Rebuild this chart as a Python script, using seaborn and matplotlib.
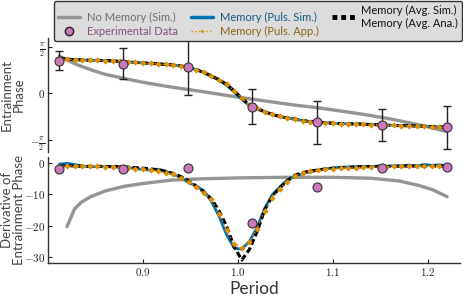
import numpy as np
import matplotlib
matplotlib.use("Agg")
import matplotlib.pyplot as plt
import seaborn as sns
from matplotlib.lines import Line2D

# -------------------------------
# Data
# -------------------------------
period = np.linspace(0.812, 1.22, 52)

# entrainment phase, memory models
phase_puls_sim = [1.19, 1.15, 1.13, 1.12, 1.11, 1.11, 1.10, 1.09, 1.07, 1.05,
                  1.04, 1.02, 1.01, 0.99, 0.97, 0.95, 0.92, 0.87, 0.80, 0.69,
                  0.57, 0.44, 0.27, 0.04, -0.21, -0.41, -0.53, -0.63, -0.71, -0.78,
                  -0.83, -0.87, -0.92, -0.95, -0.97, -0.99, -1.01, -1.02, -1.03, -1.03,
                  -1.04, -1.05, -1.06, -1.07, -1.08, -1.09, -1.09, -1.10, -1.11, -1.12,
                  -1.13, -1.14]
phase_puls_app = [1.19, 1.15, 1.13, 1.12, 1.11, 1.11, 1.10, 1.09, 1.07, 1.05,
                  1.04, 1.02, 1.01, 0.99, 0.97, 0.95, 0.92, 0.87, 0.80, 0.70,
                  0.59, 0.46, 0.30, 0.08, -0.17, -0.38, -0.51, -0.62, -0.71, -0.78,
                  -0.83, -0.87, -0.92, -0.95, -0.97, -0.99, -1.01, -1.02, -1.03, -1.03,
                  -1.04, -1.05, -1.06, -1.07, -1.08, -1.09, -1.09, -1.10, -1.11, -1.12,
                  -1.13, -1.14]
phase_avg = [1.19, 1.15, 1.13, 1.12, 1.11, 1.11, 1.10, 1.09, 1.07, 1.05,
             1.04, 1.02, 1.01, 0.99, 0.97, 0.95, 0.92, 0.87, 0.80, 0.70,
             0.59, 0.46, 0.30, 0.08, -0.17, -0.38, -0.51, -0.62, -0.71, -0.78,
             -0.83, -0.87, -0.92, -0.95, -0.97, -0.99, -1.01, -1.02, -1.03, -1.03,
             -1.04, -1.05, -1.06, -1.07, -1.08, -1.09, -1.09, -1.10, -1.11, -1.12,
             -1.13, -1.14]

# derivative of entrainment phase, memory models
deriv_puls_sim = [-0.3, 0.0, -0.4, -0.9, -1.1, -1.1, -1.1, -1.1, -1.2, -1.4,
                  -1.7, -2.0, -2.2, -1.9, -2.6, -3.6, -4.5, -6.2, -7.3, -8.8,
                  -12.2, -17.0, -22.9, -27.2, -27.5, -25.0, -20.6, -14.5, -10.1, -7.6,
                  -5.3, -4.2, -3.3, -2.7, -2.2, -1.8, -1.5, -1.3, -1.2, -1.1,
                  -1.0, -1.1, -0.9, -1.0, -0.8, -0.9, -0.6, -0.9, -0.4, -0.7,
                  -0.5, -0.8]
deriv_puls_app = [-1.2, -0.8, -0.8, -0.9, -1.0, -1.0, -1.1, -1.2, -1.3, -1.5,
                  -1.7, -1.9, -2.2, -2.6, -3.0, -3.6, -4.6, -5.9, -7.7, -9.4,
                  -11.6, -16.2, -21.5, -25.9, -27.2, -25.2, -21.0, -15.2, -11.0, -8.2,
                  -5.9, -4.0, -3.1, -2.6, -2.3, -2.0, -1.8, -1.6, -1.5, -1.4,
                  -1.3, -1.2, -1.1, -1.1, -1.0, -1.0, -0.9, -0.9, -0.9, -0.8,
                  -0.8, -0.8]
deriv_avg = [-1.0, -0.7, -0.9, -1.0, -1.0, -1.0, -1.0, -1.1, -1.1, -1.2,
             -1.4, -1.6, -1.8, -2.1, -2.6, -3.3, -4.3, -5.6, -7.3, -9.2,
             -11.4, -15.2, -20.2, -26.8, -31.0, -27.6, -22.0, -15.0, -10.6, -7.9,
             -5.6, -3.8, -3.0, -2.5, -2.2, -1.8, -1.6, -1.4, -1.3, -1.2,
             -1.1, -1.1, -1.0, -1.0, -1.0, -0.9, -0.9, -0.9, -0.9, -0.9,
             -0.9, -0.9]

# no memory model
nomem_period = [0.812, 0.82, 0.83, 0.84, 0.85, 0.86, 0.88, 0.90, 0.92, 0.94, 0.96, 0.98,
                1.00, 1.02, 1.04, 1.06, 1.08, 1.10, 1.12, 1.14, 1.16, 1.18, 1.20, 1.22]
nomem_phase = [1.25, 1.12, 0.97, 0.85, 0.74, 0.64, 0.50, 0.37, 0.26, 0.16, 0.07, -0.03,
               -0.13, -0.22, -0.31, -0.40, -0.47, -0.56, -0.65, -0.75, -0.86, -0.99, -1.13, -1.29]
nomem_deriv_period = [0.82, 0.828, 0.835, 0.845, 0.86, 0.88, 0.90, 0.93, 0.96, 1.00,
                      1.05, 1.10, 1.14, 1.17, 1.19, 1.205, 1.22]
nomem_deriv = [-20.3, -14.6, -12.5, -10.7, -8.9, -7.4, -6.5, -5.4, -5.0, -4.7,
               -4.5, -4.5, -4.8, -5.7, -7.1, -8.5, -10.7]

# experimental data
exp_period = [0.812, 0.879, 0.947, 1.015, 1.083, 1.152, 1.220]
exp_phase = [1.10, 1.00, 0.87, -0.45, -0.98, -1.07, -1.14]
exp_phase_err = [0.31, 0.51, 0.93, 0.59, 0.72, 0.53, 0.72]
exp_deriv = [-1.8, -1.8, -1.6, -19.2, -7.7, -1.4, -1.1]

GRAY = "#949494"
BLUE = "#0173B2"
ORANGE = "#DE8F05"
PINK = "#CC78BC"

sns.set_theme(style="ticks")
plt.rcParams["font.family"] = ["Lato", "DejaVu Sans"]
plt.rcParams["mathtext.fontset"] = "cm"

fig = plt.figure(figsize=(4.63, 2.96), dpi=100)
ax1 = fig.add_axes([0.1037, 0.4865, 0.8899, 0.3851])
ax2 = fig.add_axes([0.1037, 0.1115, 0.8899, 0.3581])


def draw_panel(ax, nm_x, nm_y, sim, app, avg, exp_y):
    sns.lineplot(x=nm_x, y=nm_y, ax=ax, color=GRAY, lw=2.4, zorder=1)
    sns.lineplot(x=period, y=sim, ax=ax, color=BLUE, lw=2.0, zorder=2)
    sns.lineplot(x=period, y=avg, ax=ax, color="black", lw=2.2,
                 linestyle=(0, (2, 1)), zorder=3)
    sns.lineplot(x=period, y=app, ax=ax, color=ORANGE, lw=1.0, linestyle=":",
                 marker="D", markersize=3.2, markeredgewidth=0, zorder=4)
    sns.scatterplot(x=exp_period, y=exp_y, ax=ax, color=PINK, s=42,
                    edgecolor="#333333", linewidth=0.8, zorder=6)


# -------------------------------
# Top panel: entrainment phase
# -------------------------------
ax1.errorbar(exp_period, exp_phase, yerr=exp_phase_err, fmt="none", ecolor="#222222",
             elinewidth=1.0, capsize=3, capthick=1.0, zorder=5, clip_on=False)
draw_panel(ax1, nomem_period, nomem_phase, phase_puls_sim, phase_puls_app,
           phase_avg, exp_phase)
ax1.set_xlim(0.8, 1.2337)
ax1.set_ylim(-1.975, 1.86)
ax1.set_yticks([np.pi / 2, 0, -np.pi / 2])
ax1.set_yticklabels([r"$\frac{\pi}{2}$", r"$0$", r"$-\frac{\pi}{2}$"])
ax1.tick_params(bottom=False, labelbottom=False)
for s in ["top", "right", "bottom"]:
    ax1.spines[s].set_visible(False)
ax1.set_ylabel("Entrainment\nPhase", fontsize=9.5, color="#444444", linespacing=1.0)

# -------------------------------
# Bottom panel: derivative
# -------------------------------
draw_panel(ax2, nomem_deriv_period, nomem_deriv, deriv_puls_sim, deriv_puls_app,
           deriv_avg, exp_deriv)
ax2.set_xlim(0.8, 1.2337)
ax2.set_ylim(-31.95, 2.0)
ax2.set_yticks([0, -10, -20, -30])
ax2.set_yticklabels([r"$0$", r"$-10$", r"$-20$", r"$-30$"])
ax2.set_xticks([0.9, 1.0, 1.1, 1.2])
ax2.set_xticklabels([r"$0.9$", r"$1.0$", r"$1.1$", r"$1.2$"])
for s in ["top", "right"]:
    ax2.spines[s].set_visible(False)
ax2.set_ylabel("Derivative of\nEntrainment Phase", fontsize=9.5, color="#444444",
               linespacing=1.0)
ax2.set_xlabel("Period", fontsize=12.5, color="#333333", labelpad=2)

for ax in (ax1, ax2):
    ax.tick_params(direction="in", length=3, width=0.8, labelsize=8, pad=2,
                   colors="#222222")
    for s in ax.spines.values():
        s.set_color("#333333")
        s.set_linewidth(1.0)
    ax.yaxis.label.set_verticalalignment("center")
    ax.yaxis.set_label_coords(-0.086, 0.5)

# -------------------------------
# Legend
# -------------------------------
handles = [
    Line2D([], [], color=GRAY, lw=2.5),
    Line2D([], [], marker="o", ls="none", markerfacecolor=PINK,
           markeredgecolor="#222222", markersize=6),
    Line2D([], [], color=BLUE, lw=2.5),
    Line2D([], [], color=ORANGE, lw=1.0, ls=":", marker="D", markersize=2,
           markeredgewidth=0),
    Line2D([], [], color="black", lw=3.5, ls=(0, (1, 0.8))),
]
labels = ["No Memory (Sim.)", "Experimental Data", "Memory (Puls. Sim.)",
          "Memory (Puls. App.)", "Memory (Avg. Sim.)\nMemory (Avg. Ana.)"]
leg = fig.legend(handles, labels, ncol=3, loc="upper right",
                 bbox_to_anchor=(462 / 463, 1 - 1 / 296), bbox_transform=fig.transFigure,
                 borderaxespad=0, fontsize=8, handlelength=2.0, handletextpad=0.6,
                 columnspacing=1.2, labelspacing=0.25, borderpad=0.35,
                 frameon=True, fancybox=True, facecolor="#dcdcdc", edgecolor="#333333",
                 framealpha=1,
                 labelcolor=["#6e6e6e", "#86507c", "#125a85", "#8c6410", "#111111"])
leg.get_frame().set_linewidth(1.0)

fig.savefig("out.png", dpi=100)
